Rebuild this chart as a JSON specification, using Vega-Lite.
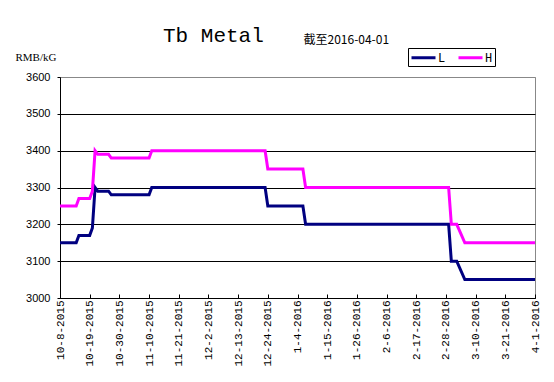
{
  "$schema": "https://vega.github.io/schema/vega-lite/v6.json",
  "autosize": {"type": "none"},
  "width": 475,
  "height": 221,
  "padding": {"left": 60, "top": 77, "right": 19, "bottom": 84},
  "background": "white",
  "title": {
    "text": "Tb Metal",
    "anchor": "start",
    "frame": "group",
    "dx": 103,
    "offset": -13,
    "font": "Liberation Mono",
    "fontSize": 21,
    "fontWeight": "normal",
    "color": "black"
  },
  "data": {
    "values": [
      {"date": "2015-10-08", "series": "L", "value": 3150},
      {"date": "2015-10-14", "series": "L", "value": 3150},
      {"date": "2015-10-15", "series": "L", "value": 3170},
      {"date": "2015-10-19", "series": "L", "value": 3170},
      {"date": "2015-10-20", "series": "L", "value": 3190},
      {"date": "2015-10-21", "series": "L", "value": 3300},
      {"date": "2015-10-22", "series": "L", "value": 3290},
      {"date": "2015-10-26", "series": "L", "value": 3290},
      {"date": "2015-10-27", "series": "L", "value": 3280},
      {"date": "2015-11-10", "series": "L", "value": 3280},
      {"date": "2015-11-11", "series": "L", "value": 3300},
      {"date": "2015-12-23", "series": "L", "value": 3300},
      {"date": "2015-12-24", "series": "L", "value": 3250},
      {"date": "2016-01-06", "series": "L", "value": 3250},
      {"date": "2016-01-07", "series": "L", "value": 3200},
      {"date": "2016-02-29", "series": "L", "value": 3200},
      {"date": "2016-03-01", "series": "L", "value": 3100},
      {"date": "2016-03-03", "series": "L", "value": 3100},
      {"date": "2016-03-06", "series": "L", "value": 3050},
      {"date": "2016-04-01", "series": "L", "value": 3050},
      {"date": "2015-10-08", "series": "H", "value": 3250},
      {"date": "2015-10-14", "series": "H", "value": 3250},
      {"date": "2015-10-15", "series": "H", "value": 3270},
      {"date": "2015-10-19", "series": "H", "value": 3270},
      {"date": "2015-10-20", "series": "H", "value": 3290},
      {"date": "2015-10-21", "series": "H", "value": 3400},
      {"date": "2015-10-22", "series": "H", "value": 3390},
      {"date": "2015-10-26", "series": "H", "value": 3390},
      {"date": "2015-10-27", "series": "H", "value": 3380},
      {"date": "2015-11-10", "series": "H", "value": 3380},
      {"date": "2015-11-11", "series": "H", "value": 3400},
      {"date": "2015-12-23", "series": "H", "value": 3400},
      {"date": "2015-12-24", "series": "H", "value": 3350},
      {"date": "2016-01-06", "series": "H", "value": 3350},
      {"date": "2016-01-07", "series": "H", "value": 3300},
      {"date": "2016-02-29", "series": "H", "value": 3300},
      {"date": "2016-03-01", "series": "H", "value": 3200},
      {"date": "2016-03-03", "series": "H", "value": 3200},
      {"date": "2016-03-06", "series": "H", "value": 3150},
      {"date": "2016-04-01", "series": "H", "value": 3150}
    ]
  },
  "encoding": {
    "y": {
      "field": "value",
      "type": "quantitative",
      "scale": {"domain": [3000, 3600], "nice": false, "zero": false},
      "axis": {
        "values": [3000, 3100, 3200, 3300, 3400, 3500, 3600],
        "format": "d",
        "title": "RMB/kG",
        "titleAngle": 0,
        "titleAlign": "left",
        "titleBaseline": "middle",
        "titleX": -45,
        "titleY": -20,
        "titleFont": "Liberation Serif",
        "titleFontSize": 11,
        "titleFontWeight": "normal",
        "titleColor": "black",
        "labelFont": "Liberation Sans",
        "labelFontSize": 11,
        "labelColor": "black",
        "labelPadding": 7,
        "tickSize": 3,
        "tickColor": "black",
        "domainColor": "black",
        "grid": true,
        "gridOpacity": 1,
        "gridColor": {"condition": {"test": "datum.value >= 3600", "value": "#888888"}, "value": "black"}
      }
    },
    "color": {
      "field": "series",
      "type": "nominal",
      "scale": {"domain": ["L", "H"], "range": ["#000080", "#ff00ff"]},
      "legend": {
        "orient": "none",
        "legendX": 348,
        "legendY": -29,
        "direction": "horizontal",
        "title": null,
        "strokeColor": "black",
        "fillColor": "white",
        "padding": 2,
        "symbolType": "M-2,0H2",
        "symbolSize": 144,
        "symbolStrokeWidth": 3,
        "symbolOffset": 6,
        "labelFont": "Liberation Mono",
        "labelFontSize": 12,
        "labelColor": "black",
        "labelOffset": 7,
        "columnPadding": 6
      }
    }
  },
  "layer": [
    {
      "transform": [{"filter": "datum.series == 'L'"}],
      "mark": {"type": "line", "strokeWidth": 3},
      "encoding": {
        "x": {
          "field": "date",
          "type": "temporal",
          "scale": {
            "type": "utc",
            "nice": false,
            "domain": [
              {"year": 2015, "month": 10, "date": 8, "utc": true},
              {"year": 2016, "month": 4, "date": 1, "utc": true}
            ]
          },
          "axis": {
            "orient": "bottom",
            "title": null,
            "values": [
              {"year": 2015, "month": 10, "date": 8, "utc": true},
              {"year": 2015, "month": 10, "date": 19, "utc": true},
              {"year": 2015, "month": 10, "date": 30, "utc": true},
              {"year": 2015, "month": 11, "date": 10, "utc": true},
              {"year": 2015, "month": 11, "date": 21, "utc": true},
              {"year": 2015, "month": 12, "date": 2, "utc": true},
              {"year": 2015, "month": 12, "date": 13, "utc": true},
              {"year": 2015, "month": 12, "date": 24, "utc": true},
              {"year": 2016, "month": 1, "date": 4, "utc": true},
              {"year": 2016, "month": 1, "date": 15, "utc": true},
              {"year": 2016, "month": 1, "date": 26, "utc": true},
              {"year": 2016, "month": 2, "date": 6, "utc": true},
              {"year": 2016, "month": 2, "date": 17, "utc": true},
              {"year": 2016, "month": 2, "date": 28, "utc": true},
              {"year": 2016, "month": 3, "date": 10, "utc": true},
              {"year": 2016, "month": 3, "date": 21, "utc": true},
              {"year": 2016, "month": 4, "date": 1, "utc": true}
            ],
            "labelExpr": "utcFormat(datum.value, '%-m-%-d-%Y')",
            "labelAngle": 270,
            "labelAlign": "right",
            "labelBaseline": "middle",
            "labelFont": "Liberation Mono",
            "labelFontSize": 11,
            "labelColor": "black",
            "labelPadding": 6,
            "labelFlush": false,
            "labelOverlap": false,
            "tickSize": -4,
            "tickColor": "black",
            "domainColor": "black",
            "grid": false
          }
        }
      }
    },
    {
      "transform": [{"filter": "datum.series == 'H'"}],
      "mark": {"type": "line", "strokeWidth": 3},
      "encoding": {
        "x": {
          "field": "date",
          "type": "temporal",
          "axis": {
            "orient": "top",
            "title": "截至2016-04-01",
            "titleFont": "Noto Sans CJK SC",
            "titleFontSize": 12,
            "titleFontWeight": "normal",
            "titleColor": "black",
            "titleAngle": 0,
            "titleAlign": "left",
            "titleBaseline": "middle",
            "titleX": 243,
            "titleY": -38,
            "labels": false,
            "ticks": false,
            "domain": false,
            "grid": false
          }
        }
      }
    }
  ],
  "resolve": {"axis": {"x": "independent"}},
  "config": {"view": {"stroke": "#888888"}}
}
